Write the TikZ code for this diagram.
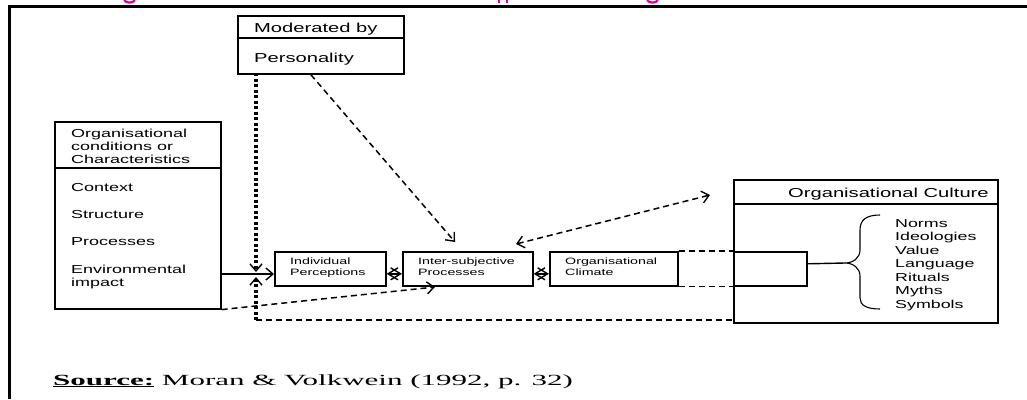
\documentclass[tikz,border=0pt]{standalone}
\usepackage{fontspec}
\setmainfont{Liberation Sans}
\newfontfamily\wsans{Liberation Sans}[FakeStretch=1.55]
\newfontfamily\wserif{Liberation Serif}[FakeStretch=2.0]
\usetikzlibrary{arrows.meta}
\definecolor{magtitle}{RGB}{220,0,160}
\tikzset{
  boxline/.style={draw, line width=1.6pt},
  box/.style={boxline, inner sep=0pt, anchor=north west},
  txt/.style={anchor=base west, inner sep=0pt, text=black},
  fbig/.style={font=\wsans\fontsize{11.6}{13}\selectfont},
  fsmall/.style={font=\wsans\fontsize{9.2}{11}\selectfont},
  ftitle/.style={font=\wsans\fontsize{13}{15}\selectfont},
  flist/.style={font=\wsans\fontsize{11.5}{13.5}\selectfont},
  dashline/.style={line width=1.5pt, dash pattern=on 6pt off 4pt},
  dotline/.style={line width=3.5pt, dash pattern=on 3pt off 2.5pt},
  tipv/.tip={Straight Barb[length=7pt,width=12pt,line width=1.4pt]},
  tipx/.tip={Straight Barb[length=10pt,width=12pt,line width=1.4pt]},
  barb/.style={-tipv},
  dbarb/.style={tipv-tipv},
  xbarb/.style={tipx-tipx},
}
\begin{document}
\begin{tikzpicture}[x=1pt,y=-1pt]
\useasboundingbox (0,0) rectangle (1027,399);
% frame
\draw[line width=3.5pt] (9.5,399) -- (9.5,6.5) -- (1027,6.5);
% clipped title descenders
\draw[magtitle, line width=2.2pt] (124,0) .. controls (126,3.5) and (133,3.5) .. (135,0);
\draw[magtitle, line width=2.4pt] (499,0) -- (499,3.2) (507,0) -- (507,3.2);
\draw[magtitle, line width=2.2pt] (647,0) .. controls (649,3.5) and (656,3.5) .. (658,0);

% Moderated by box
\node[box, minimum width=166pt, minimum height=22pt] (modtop) at (237,15) {};
\node[box, minimum width=166pt, minimum height=36pt] (modbot) at (237,37) {};
\node[txt, ftitle] (modtxt) at (254,32) {Moderated by};
\node[txt, ftitle] (perstxt) at (254,62) {Personality};

% Organisational conditions box
\node[box, minimum width=166pt, minimum height=46pt] (orgtop) at (54,121) {};
\node[box, minimum width=166pt, minimum height=141pt] (orgbot) at (54,167) {};
\node[txt, fbig, align=left] (orgtxt) at (71,163) {Organisational\\conditions or\\Characteristics};
\node[txt, fbig] (ctx) at (71,191) {Context};
\node[txt, fbig] (str) at (71,218) {Structure};
\node[txt, fbig] (proc) at (71,245) {Processes};
\node[txt, fbig, align=left] (env) at (71,286) {Environmental\\impact};

% process boxes
\node[box, minimum width=111pt, minimum height=34pt] (ip) at (274,251) {};
\node[box, minimum width=130pt, minimum height=34pt] (isp) at (402,251) {};
\node[box, minimum width=128pt, minimum height=34pt] (oc) at (549,251) {};
\node[txt, fsmall, align=left] (iptxt) at (290,275.5) {Individual\\Perceptions};
\node[txt, fsmall, align=left] (isptxt) at (418,275.5) {Inter-subjective\\Processes};
\node[txt, fsmall, align=left] (octxt) at (565,275.5) {Organisational\\Climate};

% Culture box
\node[box, minimum width=264pt, minimum height=24pt] (culttop) at (733,179) {};
\node[box, minimum width=264pt, minimum height=119pt] (cultbot) at (733,203) {};
\node[txt, ftitle] (culttxt) at (788,197.5) {Organisational Culture};
\node[box, minimum width=73pt, minimum height=34pt] (ext) at (733,251) {};
\node[txt, flist, align=left] (list) at (895,308) {Norms\\Ideologies\\Value\\Language\\Rituals\\Myths\\Symbols};

% dashed extension of the climate box
\draw[dashline] (oc.north east) -- (oc.north east -| ext.west);
\draw[dashline] (oc.south east) -- (oc.south east -| ext.west);

% brace
\coordinate (btip) at (845,263);
\draw[line width=1.1pt] (880,215) .. controls (866,215) and (860,220) .. (860,230) -- (860,250)
  .. controls (860,258) and (853,263) .. (btip)
  .. controls (853,263) and (860,268) .. (860,276) -- (860,298)
  .. controls (860,305) and (866,309) .. (880,309);
\draw[line width=1.4pt] ([yshift=5pt]ext.east) -- (btip);

% dotted moderation line
\coordinate (dtop) at (256,73);
\coordinate (jt) at (256,272);
\coordinate (jb) at (256,277);
\coordinate (corner) at (256,320);
\draw[dotline, barb] (dtop) -- (jt);
\draw[dotline, barb] (corner) -- (jb);
\draw[dashline] (corner) -- (corner -| cultbot.west);

% input arrow
\coordinate (a1) at (220,274);
\draw[line width=1.6pt, barb] (a1) -- (a1 -| ip.west);

% double arrows between process boxes
\draw[line width=1.4pt, xbarb] ([yshift=-5pt]ip.east) -- ([yshift=-5pt]isp.west);
\draw[line width=1.4pt, xbarb] ([yshift=-5pt]isp.east) -- ([yshift=-5pt]oc.west);

% dashed arrows
\coordinate (pend) at (455,242);
\draw[dashline, barb] ([xshift=-10pt]modbot.south) -- (pend);
\coordinate (d1) at (516,244);
\coordinate (d2) at (710,195);
\draw[dashline, dbarb] (d1) -- (d2);
\coordinate (f1) at (435,287);
\draw[dashline, barb] (orgbot.south east) -- (f1);

% source
\node[txt, font=\wserif\fontsize{15.5}{18}\selectfont] (src) at (53,385) {\underline{\textbf{Source:}} Moran \& Volkwein (1992, p. 32)};
\end{tikzpicture}
\end{document}
